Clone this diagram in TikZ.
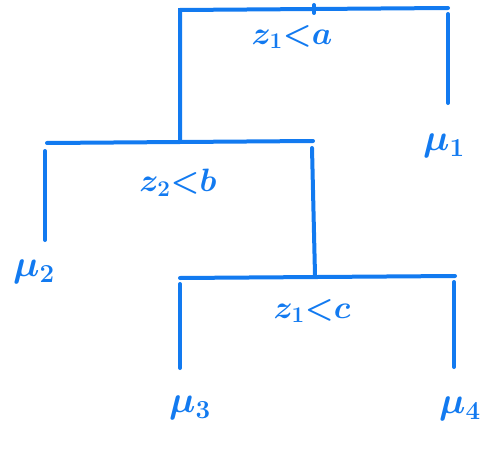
\documentclass[tikz,border=0pt]{standalone}
\usepackage{fontspec}
\usepackage{graphicx}
\setmainfont{DejaVu Sans}
\definecolor{pen}{RGB}{18,122,240}
\newcommand{\biglab}[2]{\scalebox{#1}{\fontsize{24}{26}\selectfont\boldmath$#2$}}
\begin{document}
\begin{tikzpicture}[x=1pt,y=-1pt,
  bar/.style={draw=pen,line width=4pt,line cap=round},
  lab/.style={text=pen,inner sep=0pt},
  leaf/.style={text=pen,inner sep=0pt}]
\useasboundingbox (0,0) rectangle (482,452);
% coordinates
\coordinate (t1l) at (180,10);
\coordinate (t1r) at (448,8);
\coordinate (t1tick) at (314,5);
\coordinate (t1tickb) at (314,13);
\coordinate (t1ld) at (180,140);
\coordinate (t1rt) at (448,14);
\coordinate (t1rd) at (448,103);
\coordinate (t2l) at (47,143);
\coordinate (t2r) at (313,141);
\coordinate (t2lt) at (45,151);
\coordinate (t2ld) at (45,240);
\coordinate (t2rt) at (312,148);
\coordinate (t2rd) at (315,275);
\coordinate (t3l) at (180,278);
\coordinate (t3r) at (455,276);
\coordinate (t3lt) at (180,284);
\coordinate (t3ld) at (180,368);
\coordinate (t3rt) at (454,282);
\coordinate (t3rd) at (454,367);
% nodes
\node[lab] (s1) at (292,37) {\biglab{1.3}{z_1 {<} a}};
\node[lab] (s2) at (178,183) {\biglab{1.3}{z_2 {<} b}};
\node[lab] (s3) at (312,311) {\biglab{1.3}{z_1 {<} c}};
\node[leaf] (m1) at (444,146) {\biglab{1.5}{\mu_1}};
\node[leaf] (m2) at (34,272) {\biglab{1.5}{\mu_2}};
\node[leaf] (m3) at (190,408) {\biglab{1.5}{\mu_3}};
\node[leaf] (m4) at (460,409) {\biglab{1.5}{\mu_4}};
% bars
\draw[bar] (t1ld) -- (t1l) -- (t1r);
\draw[bar] (t1tick) -- (t1tickb);
\draw[bar] (t1rt) -- (t1rd);
\draw[bar] (t2l) -- (t2r);
\draw[bar] (t2lt) -- (t2ld);
\draw[bar] (t2rt) -- (t2rd);
\draw[bar] (t3l) -- (t3r);
\draw[bar] (t3lt) -- (t3ld);
\draw[bar] (t3rt) -- (t3rd);
\end{tikzpicture}
\end{document}
